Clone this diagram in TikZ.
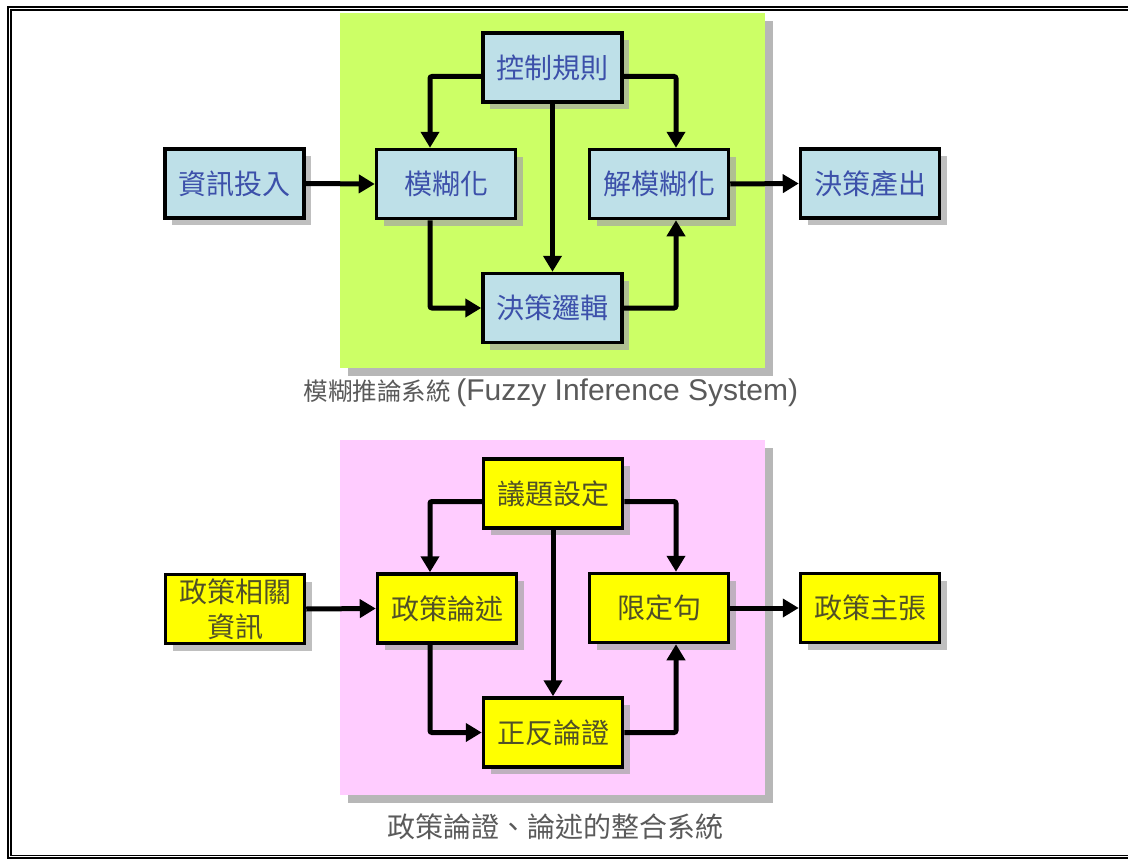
\documentclass[tikz,border=0pt]{standalone}
\usepackage{fontspec}
\setmainfont{Liberation Sans}
\newfontfamily\cjkfont{Noto Sans CJK TC}
\newfontfamily\latinfont{Liberation Sans}
\usetikzlibrary{arrows.meta,shadows}

\definecolor{panelgreen}{RGB}{204,255,102}
\definecolor{panelpink}{RGB}{255,204,255}
\definecolor{boxblue}{RGB}{190,224,232}
\definecolor{textblue}{RGB}{60,80,170}
\definecolor{boxyellow}{RGB}{255,255,0}
\definecolor{textolive}{RGB}{80,80,40}
\definecolor{captiongray}{RGB}{90,90,90}
\definecolor{shadowgray}{RGB}{165,165,165}

\begin{document}
\begin{tikzpicture}[x=1pt,y=-1pt,
  panelshadow/.style={drop shadow={shadow xshift=8pt, shadow yshift=-8pt, fill=shadowgray, opacity=0.8}},
  box/.style={draw=black, line width=3.5pt, minimum width=139pt, minimum height=69pt,
    inner sep=0pt, align=center, font=\cjkfont\fontsize{28}{35}\selectfont,
    drop shadow={shadow xshift=7pt, shadow yshift=-7pt, fill=shadowgray, opacity=0.7}},
  bluebox/.style={box, fill=boxblue, text=textblue},
  yellowbox/.style={box, fill=boxyellow, text=textolive},
  arr/.style={line width=5pt, rounded corners=2pt, -{Triangle[length=16pt,width=18pt]}},
  caption/.style={text=captiongray, inner sep=0pt}
]
\useasboundingbox (0,0) rectangle (1128,859);
\fill[white] (0,0) rectangle (1128,859);
\clip (0,0) rectangle (1128,859);

% outer double frame (right side cut off)
\draw[line width=2pt] (1140,6.7) -- (7.8,6.7) -- (7.8,858.3) -- (1140,858.3);
\draw[line width=1.8pt] (1140,10) -- (11.2,10) -- (11.2,855.5) -- (1140,855.5);

% panels
\fill[panelgreen, panelshadow] (340,13) rectangle (765,368);
\fill[panelpink, panelshadow] (340,440) rectangle (765,795);

\coordinate (xl) at (430,0);
\coordinate (xr) at (676,0);

% top diagram
\node[bluebox] (in1)   at (234.5,183.5) {資訊投入};
\node[bluebox] (fuzz)  at (446,184)     {模糊化};
\node[bluebox] (ctrl)  at (552.5,67.5)  {控制規則};
\node[bluebox] (defz)  at (659,184)     {解模糊化};
\node[bluebox] (logic) at (552.5,308)   {決策邏輯};
\node[bluebox] (out1)  at (870,183.5)   {決策產出};

\draw[arr] ([yshift=-9pt]ctrl.west) -| (xl |- fuzz.north);
\draw[arr] ([yshift=-9pt]ctrl.east) -| (xr |- defz.north);
\draw[arr] (ctrl.south) -- (logic.north);
\draw[arr] (xl |- fuzz.south) |- (logic.west);
\draw[arr] (logic.east) -| (xr |- defz.south);
\draw[arr] (in1.east) -- (fuzz.west);
\draw[arr] (defz.east) -- (out1.west);

\node[caption] (cap1) at (551,393) {\cjkfont\fontsize{24.5}{28}\selectfont 模糊推論系統 \latinfont\fontsize{30}{32}\selectfont(Fuzzy Inference System)};

% bottom diagram
\node[yellowbox] (in2)    at (235,609)   {政策相關\\資訊};
\node[yellowbox] (arg)    at (447,608.5) {政策論述};
\node[yellowbox] (issue)  at (553,493.5) {議題設定};
\node[yellowbox] (qual)   at (659,608)   {限定句};
\node[yellowbox] (logic2) at (553,732.5) {正反論證};
\node[yellowbox] (out2)   at (870,608)   {政策主張};

\draw[arr] ([yshift=-8pt]issue.west) -| (xl |- arg.north);
\draw[arr] ([yshift=-8pt]issue.east) -| (xr |- qual.north);
\draw[arr] (issue.south) -- (logic2.north);
\draw[arr] (xl |- arg.south) |- (logic2.west);
\draw[arr] (logic2.east) -| (xr |- qual.south);
\draw[arr] (in2.east) -- (arg.west);
\draw[arr] (qual.east) -- (out2.west);

\node[caption, font=\cjkfont\fontsize{28}{30}\selectfont] (cap2) at (555.5,827) {政策論證、論述的整合系統};
\end{tikzpicture}
\end{document}
